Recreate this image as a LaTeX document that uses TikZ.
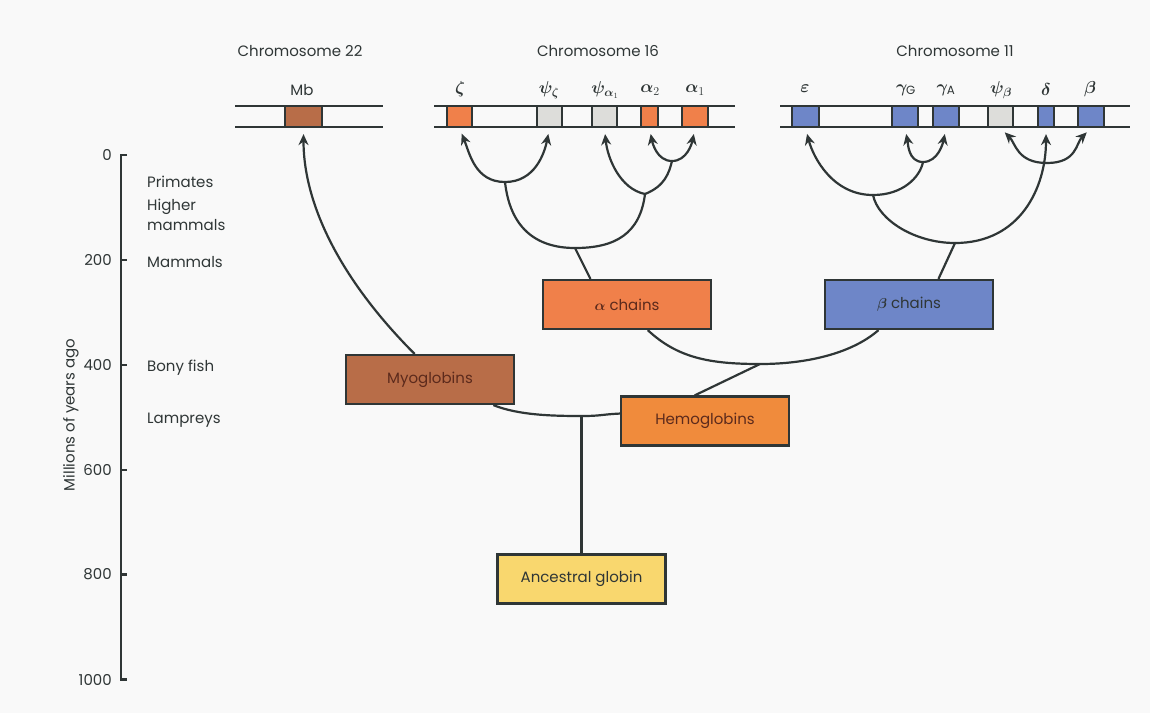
\documentclass[tikz,border=0pt]{standalone}
\usepackage{fontspec}
\usepackage{bm}
\setmainfont{Poppins}
\usetikzlibrary{arrows.meta}

\definecolor{ink}{HTML}{2F3636}
\definecolor{bg}{HTML}{F9F9F9}
\definecolor{alphaor}{HTML}{F0804A}
\definecolor{hemoor}{HTML}{F08B3C}
\definecolor{myobr}{HTML}{B86D48}
\definecolor{betabl}{HTML}{6E86C8}
\definecolor{ancyel}{HTML}{F9D76E}
\definecolor{pseudo}{HTML}{DDDDDA}
\definecolor{boxtxt}{HTML}{5C2A1C}

\tikzset{
  branch/.style={draw=ink,line width=2.2pt},
  arr/.style={branch,-{Stealth[length=11pt,width=10pt]},shorten >=6pt},
  axis/.style={draw=ink,line width=2.4pt},
  globin/.style={draw=ink,line width=2.2pt,minimum width=168pt,minimum height=49pt,inner sep=0pt,text=boxtxt},
  gene/.style={draw=ink,line width=2.2pt,minimum height=21pt,inner sep=0pt},
  genelab/.style={font=\fontsize{17}{20}\selectfont},
  era/.style={anchor=west,inner sep=2pt,align=left},
}

\begin{document}
\begin{tikzpicture}[x=1pt,y=-1pt,font=\fontsize{15}{20}\selectfont,every node/.style={text=ink}]
\fill[bg] (0,0) rectangle (1150,713); % page

% time axis
\draw[axis] (127,155) -- (121,155) -- (121,679.5) -- (127,679.5);
\foreach \v in {0,200,...,1000}{
  \draw[axis] (121,155+0.5245*\v) -- (127,155+0.5245*\v);
  \node[anchor=east,inner sep=1pt] (tick\v) at (113,155+0.5245*\v) {\v};
}
\node[rotate=90] (ylab) at (71,415) {Millions of years ago};

\node[era] (prim) at (145,182) {Primates};
\node[era] (higher) at (145,215) {Higher\\mammals};
\node[era] (mamm) at (145,262) {Mammals};
\node[era] (bony) at (145,368) {Bony fish};
\node[era] (lamp) at (145,420) {Lampreys};

% chromosome 22
\node (c22) at (300,51) {Chromosome 22};
\draw[branch] (235,106) -- (383,106) (235,127) -- (383,127);
\node[gene,fill=myobr,minimum width=37pt] (gmb) at (303.5,116.5) {};
\node (lmb) at (302,90) {Mb};

% chromosome 16
\node (c16) at (598,51) {Chromosome 16};
\draw[branch] (434,106) -- (735,106) (434,127) -- (735,127);
\node[gene,fill=alphaor,minimum width=25pt] (gzeta) at (459.5,116.5) {};
\node[gene,fill=pseudo,minimum width=25pt] (gpsiz) at (549.5,116.5) {};
\node[gene,fill=pseudo,minimum width=25pt] (gpsia) at (604.5,116.5) {};
\node[gene,fill=alphaor,minimum width=17pt] (gatwo) at (649.5,116.5) {};
\node[gene,fill=alphaor,minimum width=26pt] (gaone) at (695,116.5) {};
\node[genelab] (lzeta) at (460,89) {$\bm\zeta$};
\node[genelab] (lpsiz) at (549,90) {$\bm\psi_{\bm\zeta}$};
\node[genelab] (lpsia) at (605,90) {$\bm\psi_{\bm\alpha_1}$};
\node[genelab] (latwo) at (650,90) {$\bm\alpha_2$};
\node[genelab] (laone) at (695,90) {$\bm\alpha_1$};

% chromosome 11
\node (c11) at (955,51) {Chromosome 11};
\draw[branch] (780,106) -- (1130,106) (780,127) -- (1130,127);
\node[gene,fill=betabl,minimum width=27pt] (geps) at (805.5,116.5) {};
\node[gene,fill=betabl,minimum width=26pt] (ggamg) at (905,116.5) {};
\node[gene,fill=betabl,minimum width=26pt] (ggama) at (946,116.5) {};
\node[gene,fill=pseudo,minimum width=25pt] (gpsib) at (1000.5,116.5) {};
\node[gene,fill=betabl,minimum width=16pt] (gdelta) at (1046,116.5) {};
\node[gene,fill=betabl,minimum width=26pt] (gbeta) at (1091,116.5) {};
\node[genelab] (leps) at (805,89) {$\bm\varepsilon$};
\node[genelab] (lgamg) at (906,90) {$\bm\gamma_{\mathrm{G}}$};
\node[genelab] (lgama) at (946,90) {$\bm\gamma_{\mathrm{A}}$};
\node[genelab] (lpsib) at (1001,90) {$\bm\psi_{\bm\beta}$};
\node[genelab] (ldelta) at (1046,89) {$\bm\delta$};
\node[genelab] (lbeta) at (1090,89) {$\bm\beta$};

% globin boxes
\node[globin,fill=alphaor] (achains) at (627,304.5) {$\bm\alpha$ chains};
\node[globin,fill=betabl,text=ink] (bchains) at (909,304.5) {$\bm\beta$ chains};
\node[globin,fill=myobr] (myo) at (430,379.5) {Myoglobins};
\node[globin,fill=hemoor] (hemo) at (705,421) {Hemoglobins};
\node[globin,fill=ancyel,text=ink] (anc) at (581.5,579) {Ancestral globin};

% branch points
\coordinate (root) at (581.5,416);
\coordinate (hb) at (760,364);
\coordinate (ja) at (575,248);
\coordinate (jz) at (505,182);
\coordinate (jpa) at (645,194);
\coordinate (j12) at (672,161);
\coordinate (jb) at (955,243);
\coordinate (je) at (873,195);
\coordinate (jg) at (923,162);
\coordinate (jpb) at (1047,163);

% tree
\draw[branch] (anc.north) -- (root);
\draw[branch] (myo.-22) .. controls +(25,10) and +(-30,0) .. (root) .. controls +(20,0) and +(-20,1) .. (hemo.175);
\draw[arr] (myo.121) .. controls +(-70,-70) and +(0,80) .. (gmb.south);
\draw[branch] (hemo.112) -- (hb);
\draw[branch] (achains.-51) .. controls +(30,28) and +(-50,0) .. (hb) .. controls +(50,0) and +(-25,22) .. (bchains.-140);

% alpha genes
\draw[branch] (achains.145) -- (ja);
\draw[branch] (jz) .. controls +(5,45) and +(-40,0) .. (ja) .. controls +(40,0) and +(-5,40) .. (jpa);
\draw[arr] (jz) .. controls +(-30,0) and +(10,25) .. (gzeta.south);
\draw[arr] (jz) .. controls +(30,0) and +(-5,25) .. (gpsiz.south);
\draw[arr] (jpa) .. controls +(-25,-5) and +(3,30) .. (gpsia.south);
\draw[branch] (jpa) .. controls +(20,-8) and +(-3,12) .. (j12);
\draw[arr] (j12) .. controls +(-15,0) and +(3,15) .. (gatwo.south);
\draw[arr] (j12) .. controls +(15,0) and +(-3,15) .. (gaone.south);

% beta genes
\draw[branch] (bchains.41) -- (jb);
\draw[branch] (je) .. controls +(5,25) and +(-40,0) .. (jb);
\draw[arr] (jb) .. controls +(65,0) and +(0,60) .. (gdelta.south);
\draw[arr] (je) .. controls +(-40,0) and +(8,30) .. (geps.south);
\draw[branch] (je) .. controls +(30,0) and +(-3,15) .. (jg);
\draw[arr] (jg) .. controls +(-15,0) and +(3,15) .. (ggamg.south);
\draw[arr] (jg) .. controls +(15,0) and +(-3,15) .. (ggama.south);
\draw[arr] (jpb) .. controls +(-30,0) and +(15,15) .. (gpsib.south);
\draw[arr] (jpb) .. controls +(30,0) and +(-15,15) .. (gbeta.south);
\end{tikzpicture}
\end{document}
